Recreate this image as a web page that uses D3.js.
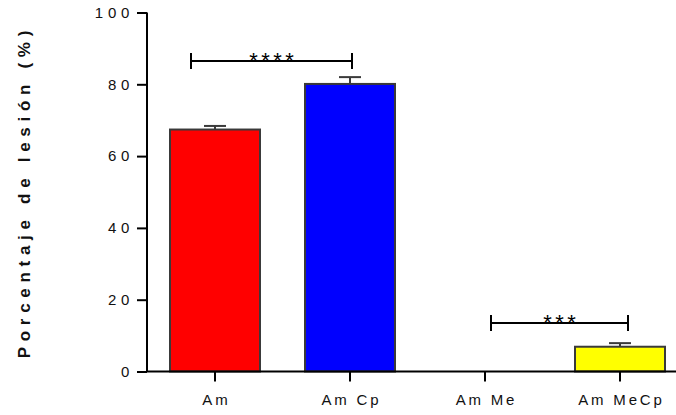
<!DOCTYPE html>
<html><head><meta charset="utf-8">
<script src="https://cdn.jsdelivr.net/npm/d3@7/dist/d3.min.js"></script>
<style>body{margin:0;background:#fff}svg{display:block}</style>
</head><body><svg id="c" width="676" height="415"></svg>
<script>
const categories = ["Am", "Am Cp", "Am Me", "Am MeCp"];
const values = [67.4, 80.1, 0, 6.9];
const errors = [1.0, 1.9, 0, 1.0];
const colors = ["#ff0000", "#0000ff", "#ffffff", "#ffff00"];
const yTicks = [0, 20, 40, 60, 80, 100];
const sigs = [
  {from: "Am", to: "Am Cp", level: 86.5, label: "****", dl: -24, dr: 2},
  {from: "Am Me", to: "Am MeCp", level: 13.5, label: "***", dl: 6, dr: 8}
];

const svg = d3.select("#c");
const y = d3.scaleLinear().domain([0, 100]).range([371.5, 12.5]);
const x = d3.scaleBand().domain(categories).range([147.5, 687.5]).paddingInner(1/3).paddingOuter(1/6);
const font = "'Liberation Sans', Arial, sans-serif";

// bars
svg.selectAll("rect.bar").data(categories).join("rect")
  .attr("x", d => x(d)).attr("width", x.bandwidth())
  .attr("y", (d,i) => y(values[i])).attr("height", (d,i) => y(0) - y(values[i]))
  .attr("fill", (d,i) => colors[i]).attr("stroke", "#3a3a3a").attr("stroke-width", 2)
  .style("display", (d,i) => values[i] > 0 ? null : "none");

// error bars
const eb = svg.append("g").attr("stroke", "#3a3a3a").attr("stroke-width", 2);
categories.forEach((c,i) => {
  if (values[i] <= 0) return;
  const cx = x(c) + x.bandwidth()/2;
  eb.append("line").attr("x1", cx).attr("x2", cx).attr("y1", y(values[i])).attr("y2", y(values[i]+errors[i]));
  eb.append("line").attr("x1", cx-11).attr("x2", cx+11).attr("y1", y(values[i]+errors[i])).attr("y2", y(values[i]+errors[i]));
});

// y axis
const ySp = 4.7;
const yAxis = svg.append("g").attr("transform", "translate(147,0)")
  .call(d3.axisLeft(y).tickValues(yTicks).tickSize(10).tickPadding(7.7));
yAxis.select(".domain").attr("stroke", "#000").attr("stroke-width", 2).attr("d", `M0,${y(100)}V${y(0)}`);
yAxis.selectAll(".tick line").attr("stroke", "#000").attr("stroke-width", 2);
yAxis.selectAll(".tick text").attr("fill", "#111").style("font-family", font).style("font-size", "15px")
  .style("letter-spacing", ySp + "px").attr("dx", ySp + "px");

// x axis
const xSp = 2.8;
const xAxis = svg.append("g").attr("transform", `translate(0,${y(0)})`)
  .call(d3.axisBottom(x).tickSize(10).tickPadding(13));
xAxis.select(".domain").attr("stroke", "#000").attr("stroke-width", 2).attr("d", `M146,0H676`);
xAxis.selectAll(".tick line").attr("stroke", "#000").attr("stroke-width", 2);
xAxis.selectAll(".tick text").attr("fill", "#111").style("font-family", font).style("font-size", "15px")
  .style("letter-spacing", xSp + "px").attr("dx", (xSp/2) + "px");

// y title
const tSp = 5.7;
svg.append("text").attr("transform", `translate(29.5,${194.5 - tSp/2}) rotate(-90)`)
  .attr("text-anchor", "middle").style("font-family", font).style("font-size", "17px")
  .style("font-weight", "bold").style("letter-spacing", tSp + "px").attr("fill", "#111")
  .text("Porcentaje de lesión (%)");

// significance
sigs.forEach(s => {
  const x1 = x(s.from) + x.bandwidth()/2 + s.dl;
  const x2 = x(s.to) + x.bandwidth()/2 + s.dr;
  const yy = y(s.level);
  const g = svg.append("g").attr("stroke", "#000").attr("stroke-width", 2);
  g.append("line").attr("x1", x1).attr("x2", x2).attr("y1", yy).attr("y2", yy);
  g.append("line").attr("x1", x1).attr("x2", x1).attr("y1", yy-8).attr("y2", yy+8);
  g.append("line").attr("x1", x2).attr("x2", x2).attr("y1", yy-8).attr("y2", yy+8);
  svg.append("text").attr("x", (x1+x2)/2 + 1.75).attr("y", yy + 7).attr("text-anchor", "middle")
    .style("font-family", font).style("font-size", "22px").style("letter-spacing", "3.5px").attr("fill", "#000")
    .text(s.label);
});
</script></body></html>
